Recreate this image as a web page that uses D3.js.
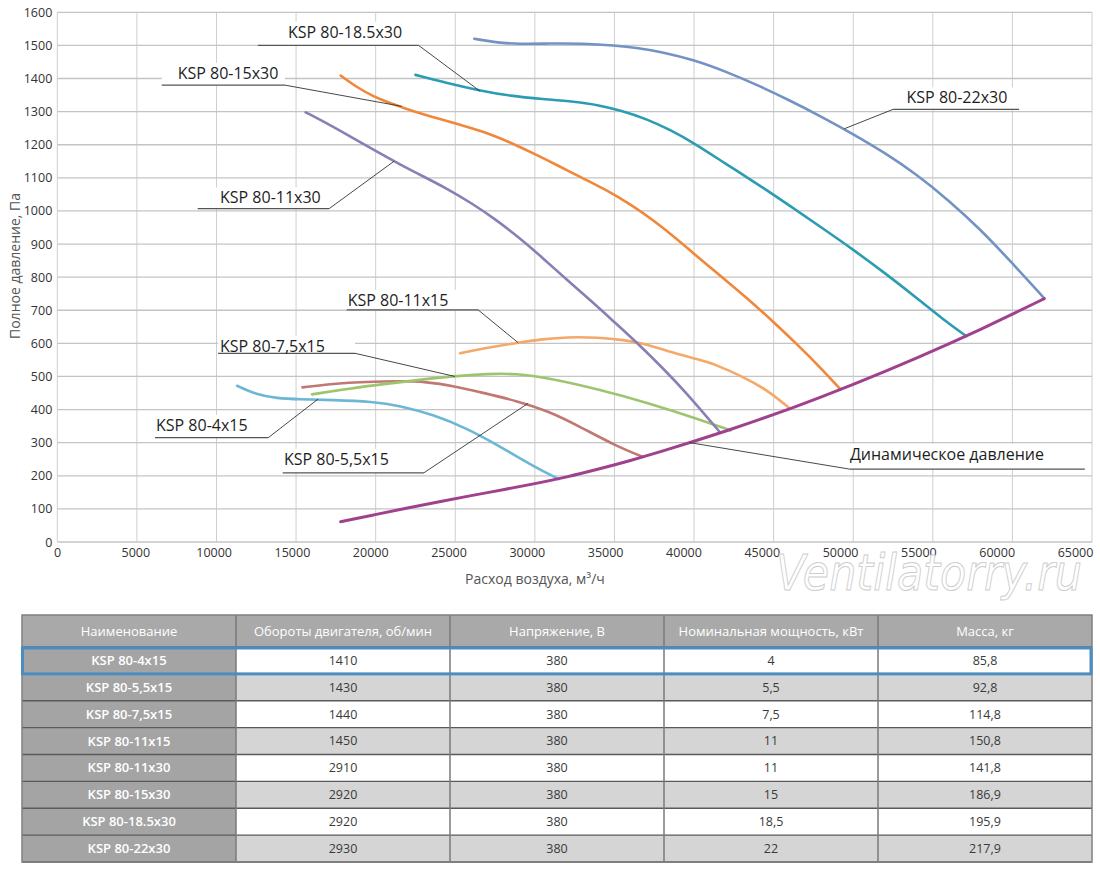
<!DOCTYPE html>
<html>
<head>
<meta charset="utf-8">
<script src="https://cdn.jsdelivr.net/npm/d3@7"></script>
<style>
    body { margin: 0; background: #fff; }
    svg text { font-family: "Open Sans", sans-serif; }
    .grid-h { stroke: #c4c4c4; stroke-width: 1.3; }
    .grid-v { stroke: #cfcfcf; stroke-width: 1; }
    .axis text { font-size: 12.5px; fill: #333; }
    .axis-title { font-size: 14px; fill: #555; }
    .curve { fill: none; stroke-linejoin: round; stroke-linecap: round; }
    .callout-text { font-size: 16px; fill: #1e1e1e; }
    .callout-under { fill: none; stroke: #555; stroke-width: 1.2; }
    .callout-leader { fill: none; stroke: #333; stroke-width: 0.9; }
    .watermark { font-family: "DejaVu Sans", sans-serif; font-style: italic; font-weight: 200;
                 font-size: 50px; fill: #fff; stroke: #cdcdcd; stroke-width: 1; }
    .th { font-size: 13px; fill: #fff; }
    .td-name { font-size: 13px; fill: #fff; font-weight: 600; }
    .td { font-size: 12.5px; fill: #3a3a3a; }
</style>
</head>
<body>
<svg id="chart" width="1100" height="872"></svg>
<script>
// flow m3/h, total pressure Pa
const ksp4x15   = [[11300,472],[12500,445],[13800,434],[15200,431],[17300,429],[19800,424],[21500,412],[23600,385],[25700,344],[27800,289],[29900,229],[31500,190]];
const ksp55x15  = [[15400,467],[17300,478],[19400,484],[21500,486],[23200,484],[24900,471],[26800,450],[28800,427],[30900,395],[33000,344],[35100,290],[36800,257]];
const ksp75x15  = [[16000,446],[18400,464],[20500,477],[22600,489],[24900,501],[27000,508],[28800,509],[30900,495],[34100,460],[37200,419],[40300,371],[42300,337]];
const ksp11x15  = [[25300,570],[27000,587],[28900,602],[30500,613],[32000,619],[34000,618],[35600,610],[36800,600],[38300,577],[40300,551],[41200,539],[43100,499],[44600,459],[46000,404]];
const ksp11x30  = [[15600,1298],[17000,1263],[18500,1222],[20000,1181],[21500,1141],[23000,1104],[24500,1067],[26000,1024],[27500,976],[29000,920],[30500,858],[32000,792],[33500,730],[35000,664],[36500,598],[38000,527],[39500,452],[41600,333]];
const ksp15x30  = [[17800,1409],[18800,1374],[19850,1346],[21000,1324],[22400,1300],[24000,1278],[25500,1258],[27000,1236],[28500,1206],[30000,1172],[31500,1136],[33000,1099],[34500,1063],[36000,1020],[37500,970],[39000,912],[40500,850],[42000,790],[43500,730],[45000,664],[46500,596],[48000,524],[49200,461]];
const ksp185x30 = [[22500,1411],[24500,1386],[26500,1364],[28500,1347],[30500,1338],[32500,1330],[34000,1320],[35500,1302],[37000,1278],[38500,1245],[40000,1205],[42000,1142],[44000,1081],[46000,1016],[48000,950],[50000,883],[52000,812],[54000,737],[56000,659],[57100,622]];
const ksp22x30  = [[26200,1520],[27500,1509],[29000,1504],[31000,1506],[33000,1506],[35000,1500],[36500,1492],[38000,1480],[40000,1456],[42000,1421],[44000,1380],[46000,1334],[48000,1285],[50000,1232],[52000,1175],[54000,1110],[56000,1032],[58000,944],[60000,842],[62000,736]];
const dynamicPressure = [[17800,61],[20000,83],[22000,103],[24000,122],[26000,140],[28000,158],[30000,176],[32000,196],[34000,220],[36000,246],[38000,274],[40000,304],[42000,335],[44000,368],[46000,402],[48000,438],[50000,476],[52000,515],[54000,556],[56000,598],[58000,642],[60000,688],[62000,735]];

const seriesKeys = ["4x15", "5,5x15", "7,5x15", "11x15", "11x30", "15x30", "18.5x30", "22x30", "dyn"];
const seriesValues = [ksp4x15, ksp55x15, ksp75x15, ksp11x15, ksp11x30, ksp15x30, ksp185x30, ksp22x30, dynamicPressure];
const seriesColors = ["#6cb7d5", "#c27872", "#9cc56f", "#f5a868", "#8a7fb4", "#f0873a", "#2b9db2", "#7393c4", "#a0418e"];

const xTicks = d3.range(0, 65001, 5000);
const yTicks = d3.range(0, 1601, 100);
const xTitle = "Расход воздуха, м³/ч";
const yTitle = "Полное давление, Па";

// callouts: text start/baseline, underline from-to at one level, leader end on curve (data units)
const callouts = [
    { text: "KSP 80-18.5x30", tx: 14490, ty: 1523, ux0: 12600, ux1: 22700, uy: 1500, ex: 26550, ey: 1362 },
    { text: "KSP 80-15x30",   tx: 7560,  ty: 1399, ux0: 6560,  ux1: 14300, uy: 1380, ex: 21630, ey: 1316 },
    { text: "KSP 80-11x30",   tx: 10220, ty: 1023, ux0: 8820,  ux1: 17080, uy: 1007, ex: 21150, ey: 1150 },
    { text: "KSP 80-22x30",   tx: 53350, ty: 1325, ux0: 52510, ux1: 60420, uy: 1307, ex: 49430, ey: 1248 },
    { text: "KSP 80-11x15",   tx: 18240, ty: 713,  ux0: 18180, ux1: 26440, uy: 701,  ex: 28950, ey: 602 },
    { text: "KSP 80-7,5x15",  tx: 10220, ty: 575,  ux0: 10100, ux1: 18700, uy: 570,  ex: 24980, ey: 500 },
    { text: "KSP 80-4x15",    tx: 6200,  ty: 336,  ux0: 6140,  ux1: 13250, uy: 315,  ex: 16390, ey: 432 },
    { text: "KSP 80-5,5x15",  tx: 14240, ty: 233,  ux0: 14160, ux1: 23030, uy: 209,  ex: 29580, ey: 419 },
    { text: "Динамическое давление", tx: 49790, ty: 248, ux0: 49790, ux1: 64550, uy: 220, ex: 39740, ey: 300 }
];

const watermarkText = "Ventilatorry.ru";

// table
const tableHeaders = ["Наименование", "Обороты двигателя, об/мин", "Напряжение, В", "Номинальная мощность, кВт", "Масса, кг"];
const modelNames  = ["KSP 80-4x15", "KSP 80-5,5x15", "KSP 80-7,5x15", "KSP 80-11x15", "KSP 80-11x30", "KSP 80-15x30", "KSP 80-18.5x30", "KSP 80-22x30"];
const motorSpeeds = ["1410", "1430", "1440", "1450", "2910", "2920", "2920", "2930"];
const voltages    = ["380", "380", "380", "380", "380", "380", "380", "380"];
const powers      = ["4", "5,5", "7,5", "11", "11", "15", "18,5", "22"];
const masses      = ["85,8", "92,8", "114,8", "150,8", "141,8", "186,9", "195,9", "217,9"];
const highlightedModel = "KSP 80-4x15";

const plot = { left: 57.3, right: 1092, top: 12.3, bottom: 542 };
const table = { left: 22, right: 1092, top: 615, headerBottom: 647, bottom: 862 };

const svg = d3.select("#chart");

const x = d3.scaleLinear().domain([0, 65000]).range([plot.left, plot.right]);
const y = d3.scaleLinear().domain([0, 1600]).range([plot.bottom, plot.top]);
// the printed tick labels drift a little left of the gridlines
const xLabel = d3.scaleLinear().domain([0, 65000]).range([57, 1075]);
const color = d3.scaleOrdinal().domain(seriesKeys).range(seriesColors);

renderGrid();
renderAxes();
renderCalloutBackgrounds();
renderCurves();
renderCallouts();
renderWatermark();
renderTable();

function renderGrid() {
    const g = svg.append("g").attr("class", "grid");
    g.selectAll(".grid-v")
        .data(xTicks)
        .enter()
        .append("line")
        .attr("class", "grid-v")
        .attr("x1", d => x(d)).attr("x2", d => x(d))
        .attr("y1", y(0)).attr("y2", y(1600));
    g.selectAll(".grid-h")
        .data(yTicks)
        .enter()
        .append("line")
        .attr("class", "grid-h")
        .attr("x1", x(0)).attr("x2", x(65000))
        .attr("y1", d => y(d)).attr("y2", d => y(d));
}

function renderAxes() {
    const yAxis = svg.append("g")
        .attr("class", "axis")
        .attr("transform", `translate(${x(0)},0)`)
        .call(d3.axisLeft(y).tickValues(yTicks).tickSize(0).tickPadding(5).tickFormat(d3.format("d")));
    yAxis.select(".domain").remove();
    yAxis.selectAll("text").attr("font-family", null).attr("font-size", null);

    const xAxis = svg.append("g")
        .attr("class", "axis")
        .attr("transform", `translate(0,${y(0)})`)
        .call(d3.axisBottom(xLabel).tickValues(xTicks).tickSize(0).tickPadding(6).tickFormat(d3.format("d")));
    xAxis.select(".domain").remove();
    xAxis.selectAll("text").attr("font-family", null).attr("font-size", null);

    svg.append("text")
        .attr("class", "axis-title")
        .attr("x", 535)
        .attr("y", 584)
        .attr("text-anchor", "middle")
        .text(xTitle);

    svg.append("text")
        .attr("class", "axis-title")
        .attr("transform", `translate(20,266) rotate(-90)`)
        .attr("text-anchor", "middle")
        .text(yTitle);
}

function renderCalloutBackgrounds() {
    // white patches under the callout texts hide the grid, as in the print
    svg.append("g").selectAll("rect")
        .data(callouts)
        .enter()
        .append("rect")
        .attr("x", d => x(d.ux0))
        .attr("width", d => x(d.ux1) - x(d.ux0))
        .attr("y", d => y(d.ty) - 16)
        .attr("height", d => y(d.uy) - y(d.ty) + 16)
        .attr("fill", "#fff");
}

function renderCurves() {
    const line = d3.line()
        .x(d => x(d[0]))
        .y(d => y(d[1]))
        .curve(d3.curveBasis);

    const data = seriesKeys.map((k, i) => ({ key: k, values: seriesValues[i] }));
    svg.append("g").selectAll(".curve")
        .data(data)
        .enter()
        .append("path")
        .attr("class", "curve")
        .attr("stroke", d => color(d.key))
        .attr("stroke-width", d => d.key === "dyn" ? 3 : 2.6)
        .attr("d", d => line(d.values));
}

function renderCallouts() {
    const g = svg.append("g").attr("class", "callouts");
    const item = g.selectAll(".callout")
        .data(callouts)
        .enter()
        .append("g")
        .attr("class", "callout");

    item.append("line")
        .attr("class", "callout-under")
        .attr("x1", d => x(d.ux0)).attr("x2", d => x(d.ux1))
        .attr("y1", d => y(d.uy)).attr("y2", d => y(d.uy));

    item.append("line")
        .attr("class", "callout-leader")
        .attr("x1", d => x(d.ex < d.ux0 ? d.ux0 : d.ux1))
        .attr("y1", d => y(d.uy))
        .attr("x2", d => x(d.ex)).attr("y2", d => y(d.ey));

    item.append("text")
        .attr("class", "callout-text")
        .attr("x", d => x(d.tx))
        .attr("y", d => y(d.ty))
        .text(d => d.text);
}

function renderWatermark() {
    svg.append("text")
        .attr("class", "watermark")
        .attr("x", 776)
        .attr("y", 590)
        .attr("textLength", 306)
        .attr("lengthAdjust", "spacingAndGlyphs")
        .text(watermarkText);
}

function renderTable() {
    const col = d3.scaleBand().domain(tableHeaders).range([table.left, table.right]);
    const row = d3.scaleBand().domain(modelNames).range([table.headerBottom, table.bottom]);
    const columns = [modelNames, motorSpeeds, voltages, powers, masses];

    const g = svg.append("g").attr("class", "table");

    // header
    g.selectAll(".th-cell")
        .data(tableHeaders)
        .enter()
        .append("rect")
        .attr("class", "th-cell")
        .attr("x", d => col(d)).attr("width", col.bandwidth())
        .attr("y", table.top).attr("height", table.headerBottom - table.top)
        .attr("fill", "#a9a9a9");
    g.selectAll(".th")
        .data(tableHeaders)
        .enter()
        .append("text")
        .attr("class", "th")
        .attr("x", d => col(d) + col.bandwidth() / 2)
        .attr("y", (table.top + table.headerBottom) / 2)
        .attr("dy", "0.35em")
        .attr("text-anchor", "middle")
        .text(d => d);

    // body
    const rows = g.selectAll(".tr")
        .data(modelNames)
        .enter()
        .append("g")
        .attr("class", "tr")
        .attr("transform", d => `translate(0,${row(d)})`);

    rows.each(function(name, ri) {
        const r = d3.select(this);
        tableHeaders.forEach((h, ci) => {
            r.append("rect")
                .attr("x", col(h)).attr("width", col.bandwidth())
                .attr("y", 0).attr("height", row.bandwidth())
                .attr("fill", ci === 0 ? "#a4a4a4" : (ri % 2 === 0 ? "#ffffff" : "#d5d5d5"));
            r.append("text")
                .attr("class", ci === 0 ? "td-name" : "td")
                .attr("x", col(h) + col.bandwidth() / 2)
                .attr("y", row.bandwidth() / 2)
                .attr("dy", "0.35em")
                .attr("text-anchor", "middle")
                .text(columns[ci][ri]);
        });
    });

    // borders
    g.selectAll(".row-line")
        .data(modelNames)
        .enter()
        .append("line")
        .attr("x1", table.left).attr("x2", table.right)
        .attr("y1", d => row(d) + row.bandwidth()).attr("y2", d => row(d) + row.bandwidth())
        .attr("stroke", "#5a5a5a").attr("stroke-width", 1.3);
    g.append("line")
        .attr("x1", table.left).attr("x2", table.right)
        .attr("y1", table.headerBottom).attr("y2", table.headerBottom)
        .attr("stroke", "#6a6a6a").attr("stroke-width", 1.3);
    g.selectAll(".col-line")
        .data(tableHeaders.slice(1))
        .enter()
        .append("line")
        .attr("x1", d => col(d)).attr("x2", d => col(d))
        .attr("y1", table.top).attr("y2", table.bottom)
        .attr("stroke", "#7a7a7a").attr("stroke-width", 1.5);
    g.append("rect")
        .attr("x", table.left).attr("y", table.top)
        .attr("width", table.right - table.left).attr("height", table.bottom - table.top)
        .attr("fill", "none").attr("stroke", "#808080").attr("stroke-width", 1.5);

    // highlighted model
    g.append("rect")
        .attr("x", table.left + 0.5)
        .attr("y", row(highlightedModel) + 1)
        .attr("width", table.right - table.left - 1.5)
        .attr("height", row.bandwidth() - 1)
        .attr("fill", "none")
        .attr("stroke", "#4b8dc1")
        .attr("stroke-width", 3);
}
</script>
</body>
</html>
